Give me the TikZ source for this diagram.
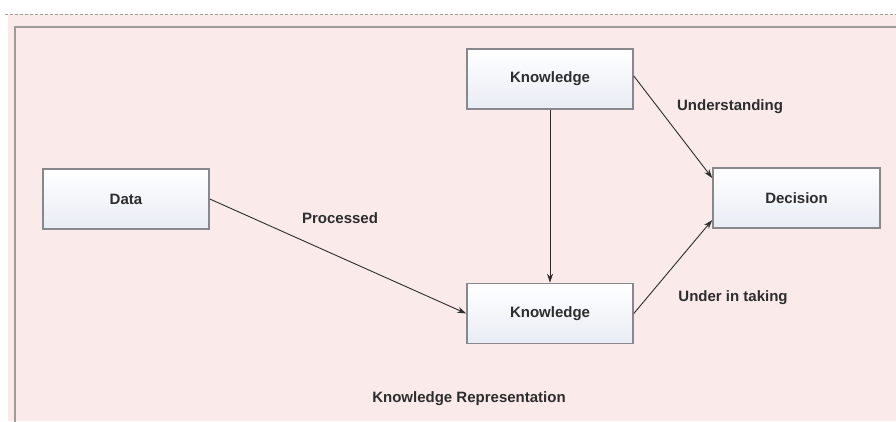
\documentclass[tikz,border=0pt]{standalone}
\usepackage{fontspec}
\setmainfont{Liberation Sans}
\usetikzlibrary{arrows.meta}
\definecolor{panelpink}{RGB}{250,234,234}
\definecolor{panelline}{RGB}{160,155,155}
\definecolor{boxline}{RGB}{135,135,140}
\definecolor{boxbottom}{RGB}{232,236,244}
\definecolor{inkgrey}{RGB}{45,45,45}
\begin{document}
\begin{tikzpicture}[x=1pt,y=-1pt,
  conceptbox/.style={draw=boxline,line width=1.6pt,top color=white,bottom color=boxbottom,
    minimum width=166pt,minimum height=60pt,inner sep=0pt,
    font=\fontsize{15}{18}\selectfont\bfseries,text=inkgrey},
  flowlabel/.style={font=\fontsize{15}{18}\selectfont\bfseries,text=inkgrey,inner sep=0pt},
  flow/.style={draw=inkgrey,line width=0.9pt,-{Stealth[length=9pt,width=6pt]}}]
  \useasboundingbox (0,0) rectangle (896,421);
  \fill[white] (0,0) rectangle (896,421);
  % pink working area and its frame
  \fill[panelpink] (8,14) rectangle (896,421);
  \draw[panelline,dashed,dash pattern=on 3pt off 2pt,line width=1pt] (5,14) -- (896,14);
  \draw[panelline,line width=1.5pt] (15,430) -- (15,27) -- (905,27);
  % concept boxes
  \node[conceptbox] (data) at (126,199) {Data};
  \node[conceptbox] (kt) at (550,79) {Knowledge};
  \node[conceptbox] (kb) at (550,313.5) {Knowledge};
  \node[conceptbox,minimum width=167pt] (dec) at (796.5,198) {Decision};
  % connectors
  \draw[flow] (data.east) -- (kb.west);
  \draw[flow] (kt.south) -- (kb.north);
  \draw[flow] ([yshift=3pt]kt.east) -- ([yshift=20pt]dec.west);
  \draw[flow] (kb.east) -- ([yshift=-22pt]dec.west);
  % labels
  \node[flowlabel] (lproc) at (340,218) {Processed};
  \node[flowlabel] (lund) at (730,107) {Understanding};
  \node[flowlabel] (ltake) at (733,298) {Under in taking};
  \node[flowlabel] (title) at (469,399) {Knowledge Representation};
\end{tikzpicture}
\end{document}
